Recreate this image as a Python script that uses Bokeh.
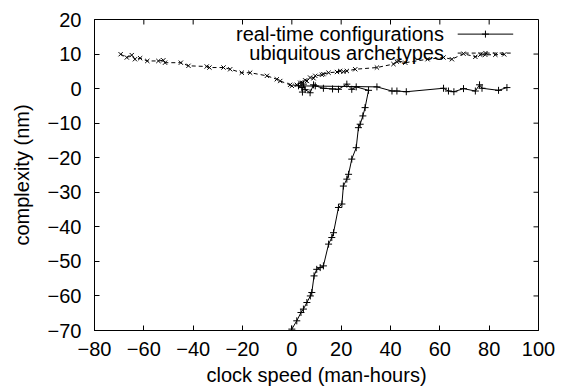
from bokeh.plotting import figure
from bokeh.models import Range1d, FixedTicker, Label
from bokeh.embed import file_html
from bokeh.resources import INLINE

# ---- data ----
rt_x = [0.0, 2.0, 3.7, 4.7, 6.1, 7.5, 8.1, 9.0, 10.1, 11.5, 12.8, 14.9, 16.2, 16.9,
        18.9, 20.3, 20.9, 22.3, 23.0, 24.3, 26.1, 27.0, 27.7, 28.8, 29.7, 31.1,
        26.1, 24.3, 22.3, 18.9, 16.5, 12.8, 9.5, 8.8, 7.4, 5.4, 4.7, 4.3, 4.1, 2.7,
        34.5, 40.6, 42.6, 46.4, 61.5, 63.5, 65.7, 69.6, 74.4, 76.1, 77.1, 83.8, 87.2]
rt_y = [-69.6, -67.2, -64.8, -63.8, -61.9, -60.0, -59.0, -54.2, -52.3, -51.8, -51.3, -45.0, -43.1, -41.7,
        -34.4, -33.4, -28.2, -26.2, -24.8, -20.4, -17.1, -11.3, -10.3, -7.9, -5.5, -0.5,
        0.5, -0.2, 1.3, -0.2, -0.1, 0.1, 0.8, 1.1, -1.2, -0.3, 1.3, -1.0, 0.3, 0.8,
        0.5, -0.7, -0.7, -0.9, 0.1, -0.7, -0.9, 0.0, -0.7, 1.1, 0.1, -0.5, 0.3]

ua_x = [-69.4, -66.9, -64.9, -63.6, -61.5, -58.6, -54.1, -52.1, -51.4, -45.0, -41.9,
        -34.5, -33.4, -27.7, -25.0, -20.3, -16.9, -10.1, -6.1, -4.7, -0.7, 0.0, 2.0,
        3.4, 4.1, 5.4, 6.1, 7.4, 8.8, 9.5, 12.2, 12.8, 14.9, 18.3, 19.6, 20.9, 22.3,
        25.7, 34.5, 41.2, 42.6, 43.3, 46.0, 55.0, 61.5, 64.9, 69.6, 74.4, 76.4, 78.4,
        82.5, 86.1]
ua_y = [9.95, 9.0, 9.7, 8.5, 8.8, 8.0, 8.0, 8.2, 7.5, 7.5, 6.6,
        6.4, 6.1, 6.1, 5.6, 4.6, 4.6, 3.7, 2.7, 2.2, 1.1, 0.8, 1.1,
        1.7, 1.7, 2.4, 2.2, 3.2, 3.0, 3.7, 4.0, 4.2, 4.6, 4.8, 5.1, 4.9, 5.1,
        5.6, 6.1, 7.1, 7.8, 8.0, 7.5, 8.5, 9.0, 8.5, 10.1, 9.2, 9.8, 9.8,
        9.8, 9.9]

series_names = ["real-time configurations", "ubiquitous archetypes"]
x_ticks = [-80, -60, -40, -20, 0, 20, 40, 60, 80, 100]
y_ticks = [20, 10, 0, -10, -20, -30, -40, -50, -60, -70]
x_label = "clock speed (man-hours)"
y_label = "complexity (nm)"

FONT = "Liberation Sans"
FS = "20px"
X0, X1 = -80, 100
Y0, Y1 = -70, 20
W, H = 565, 392
BL, BR, BT, BB = 94, 27, 19, 62
TICK = 5  # px

p = figure(width=W, height=H, output_backend="svg", toolbar_location=None,
           x_range=Range1d(X0, X1), y_range=Range1d(Y0, Y1),
           min_border_left=BL, min_border_right=BR, min_border_top=BT,
           min_border_bottom=BB)
p.grid.visible = False
p.outline_line_color = "black"
p.outline_line_width = 1
p.background_fill_color = "white"
p.border_fill_color = "white"


def style_axis(ax, ticks):
    ax.ticker = FixedTicker(ticks=ticks)
    ax.major_tick_in = TICK
    ax.major_tick_out = 0
    ax.minor_tick_in = 0
    ax.minor_tick_out = 0
    ax.axis_line_color = "black"
    ax.major_tick_line_color = "black"
    ax.major_label_text_font = FONT
    ax.major_label_text_font_size = FS
    ax.major_label_text_color = "black"
    ax.axis_label_text_font = FONT
    ax.axis_label_text_font_style = "normal"
    ax.axis_label_text_font_size = FS
    ax.axis_label_text_color = "black"


xa = p.xaxis[0]
style_axis(xa, x_ticks)
xa.axis_label = x_label
xa.major_label_standoff = 11
xa.axis_label_standoff = 5

ya = p.yaxis[0]
style_axis(ya, y_ticks)
ya.axis_label = y_label
ya.major_label_standoff = 13
ya.axis_label_standoff = 12

# mirrored ticks on top and right edges (gnuplot style)
fw = W - BL - BR
fh = H - BT - BB
dy_tick = TICK * (Y1 - Y0) / fh
dx_tick = TICK * (X1 - X0) / fw
p.segment(x0=x_ticks, y0=[Y1] * len(x_ticks), x1=x_ticks,
          y1=[Y1 - dy_tick] * len(x_ticks), line_color="black", line_width=1)
p.segment(x0=[X1] * len(y_ticks), y0=y_ticks, x1=[X1 - dx_tick] * len(y_ticks),
          y1=y_ticks, line_color="black", line_width=1)

# series
p.line(rt_x, rt_y, line_color="black", line_width=1)
p.scatter(rt_x, rt_y, marker="cross", size=7, line_color="black", line_width=1)
p.line(ua_x, ua_y, line_color="black", line_width=1, line_dash="4 3")
p.scatter(ua_x, ua_y, marker="x", size=6, line_color="black", line_width=1)


# gnuplot-style key (text right-aligned, sample to its right)
def fx(f):
    return X0 + f * (X1 - X0)


def fy(f):
    return Y1 - f * (Y1 - Y0)


text_right = fx(0.787)
samp_a, samp_b = fx(0.818), fx(0.943)
rows = [fy(0.047), fy(0.108)]
for name, yy in zip(series_names, rows):
    p.add_layout(Label(x=text_right, y=yy, text=name, text_align="right",
                       text_baseline="middle", text_font=FONT,
                       text_font_size=FS, text_color="black"))
p.line([samp_a, samp_b], [rows[0], rows[0]], line_color="black", line_width=1)
p.scatter([(samp_a + samp_b) / 2], [rows[0]], marker="cross", size=7,
          line_color="black")
p.line([samp_a, samp_b], [rows[1], rows[1]], line_color="black", line_width=1,
       line_dash="4 3")
p.scatter([(samp_a + samp_b) / 2], [rows[1]], marker="x", size=6,
          line_color="black")

open("out.html", "w").write(file_html(p, INLINE))
